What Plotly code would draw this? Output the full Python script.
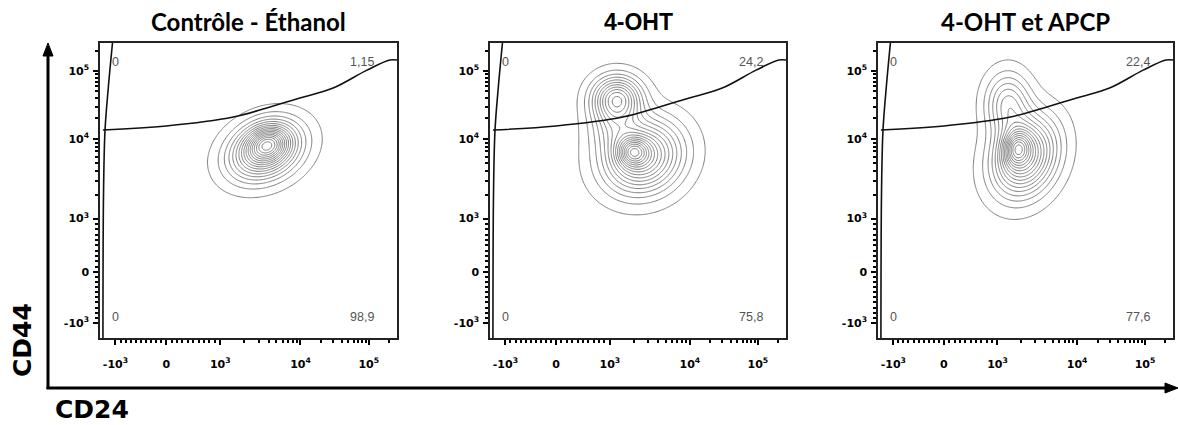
import numpy as np
import plotly.graph_objects as go

# ---------------- data ----------------
panel_titles = ["Contrôle - Éthanol", "4-OHT", "4-OHT et APCP"]
x_label = "CD24"
y_label = "CD44"

# quadrant percentages: [top-left, top-right, bottom-left, bottom-right]
quadrant_pct = [
    ["0", "1,15", "0", "98,9"],
    ["0", "24,2", "0", "75,8"],
    ["0", "22,4", "0", "77,6"],
]

# major ticks (data units) and their labels
tick_values = [-1000, 0, 1000, 10000, 100000]
tick_labels = ["-10<sup>3</sup>", "0", "10<sup>3</sup>", "10<sup>4</sup>", "10<sup>5</sup>"]

# populations per panel: centre (CD24, CD44 in data units), spread (display units), correlation, weight
pop_cd24 = [[3600, 3900], [2550, 1950, 1230, 1100], [2200, 1750, 1350]]
pop_cd44 = [[7100, 8800], [6000, 6900, 40000, 17000], [6000, 7700, 33000]]
pop_sx = [[0.080, 0.045], [0.088, 0.034, 0.055, 0.055], [0.072, 0.030, 0.050]]
pop_sy = [[0.066, 0.038], [0.082, 0.032, 0.050, 0.060], [0.088, 0.040, 0.070]]
pop_rho = [[0.25, 0.15], [0.1, 0.0, 0.0, 0.0], [0.2, 0.1, 0.0]]
pop_w = [[1.0, 0.6], [1.0, 0.6, 0.85, 0.3], [1.0, 0.6, 0.5]]

# gate curves (data units), same in every panel
gate_h_cd24 = [-1246, 0, 1450, 3800, 9800, 30000, 94000, 204000, 259000]
gate_h_cd44 = [13500, 15500, 21000, 28600, 40000, 56000, 103000, 145000, 145000]
gate_v_cd24 = [-1246, -1234, -1205, -1140, -1058]
gate_v_cd44 = [-1304, 2250, 13500, 57700, 259000]


# ---------------- biexponential display transform ----------------
def to_disp(v):
    v = np.asarray(v, dtype=float)
    out = np.empty_like(v)
    neg = v < 0
    lin = (v >= 0) & (v <= 1000)
    hi = v > 1000
    out[neg] = 0.223 + v[neg] / 1000 * 0.171
    out[lin] = 0.223 + v[lin] / 1000 * 0.182
    L = np.log10(np.where(hi, v, 1000))
    hi_low = hi & (L <= 4)
    hi_high = hi & (L > 4)
    out[hi_low] = 0.405 + (L[hi_low] - 3) * 0.27
    out[hi_high] = 0.675 + (L[hi_high] - 4) * 0.23
    return out


major_pos = to_disp(tick_values)
minor_vals = ([k * 100 for k in range(1, 10)] + [-k * 100 for k in range(1, 10)]
              + [k * 1000 for k in range(2, 10)] + [k * 10000 for k in range(2, 10)] + [200000])
minor_pos = to_disp(minor_vals)

W, H = 1178, 425
box_x = [(100, 397), (490, 786), (878, 1173)]
box_y = (43, 338)

fig = go.Figure()
grid = np.linspace(0, 1, 281)
GX, GY = np.meshgrid(grid, grid)

for i in range(3):
    xa = "x" if i == 0 else f"x{i+1}"
    ya = "y" if i == 0 else f"y{i+1}"
    Z = np.zeros_like(GX)
    cx = to_disp(pop_cd24[i])
    cy = to_disp(pop_cd44[i])
    for j in range(len(cx)):
        dx = (GX - cx[j]) / pop_sx[i][j]
        dy = (GY - cy[j]) / pop_sy[i][j]
        r = pop_rho[i][j]
        q = (dx * dx - 2 * r * dx * dy + dy * dy) / (1 - r * r)
        Z += pop_w[i][j] * np.exp(-0.5 * q)
    Z = Z / Z.max()
    fig.add_trace(go.Contour(
        x=grid, y=grid, z=Z, xaxis=xa, yaxis=ya,
        contours=dict(coloring="lines", start=0.035, end=0.97, size=0.058),
        colorscale=[[0, "#7e7e7e"], [1, "#7e7e7e"]], showscale=False,
        line=dict(width=1), hoverinfo="skip",
    ))
    # gates
    fig.add_trace(go.Scatter(x=to_disp(gate_h_cd24), y=to_disp(gate_h_cd44), mode="lines",
                             line=dict(color="#111", width=1.6, shape="spline"),
                             xaxis=xa, yaxis=ya, showlegend=False, hoverinfo="skip"))
    fig.add_trace(go.Scatter(x=to_disp(gate_v_cd24), y=to_disp(gate_v_cd44), mode="lines",
                             line=dict(color="#111", width=1.6, shape="spline"),
                             xaxis=xa, yaxis=ya, showlegend=False, hoverinfo="skip"))

    x0, x1 = box_x[i]
    xdom = [x0 / W, x1 / W]
    ydom = [1 - box_y[1] / H, 1 - box_y[0] / H]
    axcommon = dict(range=[0, 1], showgrid=False, zeroline=False, showline=True, mirror=True,
                    linecolor="#222", linewidth=1.5, ticks="outside", ticklen=5, tickwidth=2,
                    tickcolor="black", tickmode="array", tickvals=list(major_pos), ticktext=tick_labels,
                    tickfont=dict(family="DejaVu Sans", size=11, color="black", weight="bold"),
                    minor=dict(tickmode="array", tickvals=list(minor_pos), ticklen=3, tickwidth=1.5,
                               tickcolor="black", ticks="outside"))
    fig.update_layout(**{
        ("xaxis" if i == 0 else f"xaxis{i+1}"): dict(domain=xdom, anchor=ya, ticklabelstandoff=10, **axcommon),
        ("yaxis" if i == 0 else f"yaxis{i+1}"): dict(domain=ydom, anchor=xa, ticklabelstandoff=2, **axcommon),
    })
    # title
    tfont = dict(family="Lato", size=24, color="black", weight="bold") if i != 1 else \
        dict(family="Liberation Sans", size=23, color="black", weight="bold")
    fig.add_annotation(x=(x0 + x1) / 2 / W, y=1 - 22 / H, xref="paper", yref="paper",
                       text=panel_titles[i], showarrow=False, font=tfont, xanchor="center", yanchor="middle")
    # quadrant labels
    qf = dict(family="Liberation Sans", size=12.5, color="#555")
    q = quadrant_pct[i]
    fig.add_annotation(x=0.034, y=0.936, xref=xa, yref=ya, text=q[0], showarrow=False, font=qf,
                       xanchor="left", yanchor="middle")
    fig.add_annotation(x=0.93, y=0.936, xref=xa, yref=ya, text=q[1], showarrow=False, font=qf,
                       xanchor="right", yanchor="middle")
    fig.add_annotation(x=0.034, y=0.071, xref=xa, yref=ya, text=q[2], showarrow=False, font=qf,
                       xanchor="left", yanchor="middle")
    fig.add_annotation(x=0.93, y=0.071, xref=xa, yref=ya, text=q[3], showarrow=False, font=qf,
                       xanchor="right", yanchor="middle")

# big axis arrows
def px(x):
    return x / W

def py(y):
    return 1 - y / H

fig.add_shape(type="line", xref="paper", yref="paper", x0=px(48), x1=px(48), y0=py(389), y1=py(52),
              line=dict(color="black", width=3))
fig.add_shape(type="line", xref="paper", yref="paper", x0=px(46.5), x1=px(1170), y0=py(388), y1=py(388),
              line=dict(color="black", width=3))
fig.add_shape(type="path", xref="paper", yref="paper",
              path=f"M {px(43)} {py(56)} L {px(48)} {py(43)} L {px(53)} {py(56)} Z",
              fillcolor="black", line=dict(color="black", width=1))
fig.add_shape(type="path", xref="paper", yref="paper",
              path=f"M {px(1165)} {py(383)} L {px(1178)} {py(388)} L {px(1165)} {py(393)} Z",
              fillcolor="black", line=dict(color="black", width=1))

fig.add_annotation(x=px(22), y=py(340), xref="paper", yref="paper", text=y_label, textangle=-90,
                   showarrow=False, font=dict(family="DejaVu Sans", size=25, color="black", weight="bold"),
                   xanchor="center", yanchor="middle")
fig.add_annotation(x=px(92), y=py(409), xref="paper", yref="paper", text=x_label,
                   showarrow=False, font=dict(family="DejaVu Sans", size=25, color="black", weight="bold"),
                   xanchor="center", yanchor="middle")

fig.update_layout(width=W, height=H, margin=dict(l=0, r=0, t=0, b=0), showlegend=False,
                  plot_bgcolor="white", paper_bgcolor="white")
fig.write_html("out.html")
